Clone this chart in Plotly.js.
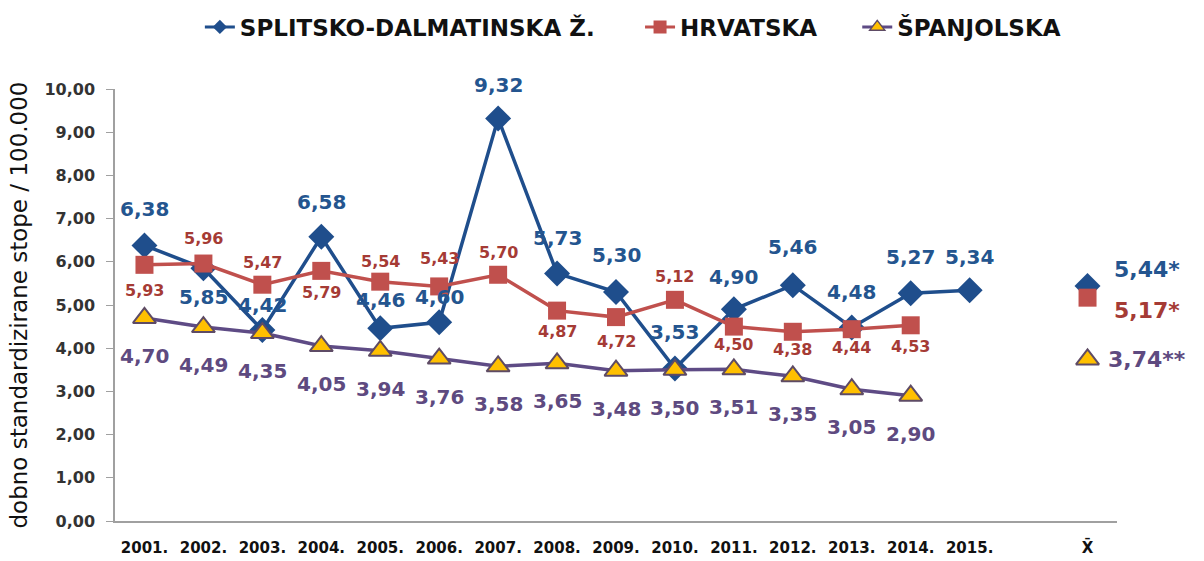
<!DOCTYPE html>
<html><head><meta charset="utf-8">
<script src="https://cdn.plot.ly/plotly-3.0.1.min.js"></script>
<style>body{margin:0;background:#fff}#c{width:1204px;height:561px}</style>
</head><body><div id="c"></div>
<script>
const years = ['2001.','2002.','2003.','2004.','2005.','2006.','2007.','2008.','2009.','2010.','2011.','2012.','2013.','2014.','2015.'];
const meanLabel = 'X̄';
const splitsko = [6.38,5.85,4.42,6.58,4.46,4.60,9.32,5.73,5.30,3.53,4.90,5.46,4.48,5.27,5.34];
const hrvatska = [5.93,5.96,5.47,5.79,5.54,5.43,5.70,4.87,4.72,5.12,4.50,4.38,4.44,4.53];
const spanjolska = [4.70,4.49,4.35,4.05,3.94,3.76,3.58,3.65,3.48,3.50,3.51,3.35,3.05,2.90];
const meanSplitsko = 5.44, meanHrvatska = 5.17, meanSpanjolska = 3.74;
const names = ['SPLITSKO-DALMATINSKA Ž.','HRVATSKA','ŠPANJOLSKA'];

const fmt = v => v.toFixed(2).replace('.', ',');
const idx = a => a.map((_, i) => i);
const meanX = years.length + 1;

// label placement (style only): vertical pixel shift of each label
const shiftS = [36,-29,25,35,28,25,33,35,37,37,32,38,35,36,33];
const shiftH = [-26,25,22,-22,20,28,22,-21,-24,23,-18,-18,-18,-21];
const shiftP = -38;

const F = 'DejaVu Sans, sans-serif';
const blue = '#1F4E8C', red = '#C0504D', purple = '#5E4B85';
const blueT = '#24558F', redT = '#A53B35', purpleT = '#5E4A80';
const triMarker = {symbol:'triangle-up',size:20,color:'#FFC000',line:{color:'#5E4B65',width:2}};

const traces = [
 {x: idx(splitsko), y: splitsko, mode:'lines+markers', showlegend:false, hoverinfo:'skip',
  line:{color:blue,width:3.5}, marker:{symbol:'diamond',size:20,color:blue}, cliponaxis:false},
 {x: idx(hrvatska), y: hrvatska, mode:'lines+markers', showlegend:false, hoverinfo:'skip',
  line:{color:red,width:3.5}, marker:{symbol:'square',size:18,color:red}, cliponaxis:false},
 {x: idx(spanjolska), y: spanjolska, mode:'lines+markers', showlegend:false, hoverinfo:'skip',
  line:{color:purple,width:3.5}, marker:triMarker, cliponaxis:false},
 {x:[meanX], y:[meanSplitsko], mode:'markers', showlegend:false, marker:{symbol:'diamond',size:20,color:blue}, cliponaxis:false},
 {x:[meanX], y:[meanHrvatska], mode:'markers', showlegend:false, marker:{symbol:'square',size:18,color:red}, cliponaxis:false},
 {x:[meanX], y:[meanSpanjolska], mode:'markers', showlegend:false, marker:triMarker, cliponaxis:false},
 // legend entries
 {x:[null], y:[null], name:names[0], mode:'lines+markers', legend:'legend', line:{color:blue,width:3}, marker:{symbol:'diamond',size:11,color:blue}},
 {x:[null], y:[null], name:names[1], mode:'lines+markers', legend:'legend2', line:{color:red,width:3}, marker:{symbol:'square',size:13,color:red}},
 {x:[null], y:[null], name:names[2], mode:'lines+markers', legend:'legend3', line:{color:purple,width:3}, marker:{symbol:'triangle-up',size:13,color:'#FFC000',line:{color:'#5E4B65',width:1.5}}}
];

const ann = [];
splitsko.forEach((v,i)=>ann.push({x:i,y:v,text:fmt(v),showarrow:false,yshift:shiftS[i],
  font:{family:F,size:20,color:blueT,weight:'bold'}}));
hrvatska.forEach((v,i)=>ann.push({x:i,y:v,text:fmt(v),showarrow:false,yshift:shiftH[i],
  font:{family:F,size:16,color:redT,weight:'bold'}}));
spanjolska.forEach((v,i)=>ann.push({x:i,y:v,text:fmt(v),showarrow:false,yshift:shiftP,
  font:{family:F,size:20,color:purpleT,weight:'bold'}}));
ann.push({x:meanX,y:meanSplitsko,text:fmt(meanSplitsko)+'*',showarrow:false,xanchor:'left',xshift:24,yshift:16,
  font:{family:F,size:22,color:blueT,weight:'bold'}});
ann.push({x:meanX,y:meanHrvatska,text:fmt(meanHrvatska)+'*',showarrow:false,xanchor:'left',xshift:24,yshift:-13,
  font:{family:F,size:22,color:redT,weight:'bold'}});
ann.push({x:meanX,y:meanSpanjolska,text:fmt(meanSpanjolska)+'**',showarrow:false,xanchor:'left',xshift:18,yshift:0,
  font:{family:F,size:22,color:purpleT,weight:'bold'}});

const tickvals = idx(years).concat([meanX]);
const ticktext = years.concat([meanLabel]);
const legFont = {family:F,size:23,color:'#111',weight:'bold'};
const legBase = {orientation:'h', xref:'container', yref:'container', xanchor:'left', y:0.952, yanchor:'middle', font:legFont, bgcolor:'rgba(0,0,0,0)'};

const layout = {
 width:1204, height:561,
 margin:{l:115, r:87, t:89, b:40},
 paper_bgcolor:'#fff', plot_bgcolor:'#fff',
 separators:',.',
 showlegend:true,
 legend: Object.assign({}, legBase, {x:0.166}),
 legend2: Object.assign({}, legBase, {x:0.5316}),
 legend3: Object.assign({}, legBase, {x:0.712}),
 annotations: ann,
 xaxis:{range:[-0.5, meanX+0.5], tickvals:tickvals, ticktext:ticktext, showgrid:false, zeroline:false,
   showline:true, linecolor:'#A0A0A0', linewidth:2, ticks:'', ticklabelstandoff:12,
   tickfont:{family:F,size:15,color:'#111',weight:'bold'}},
 yaxis:{range:[0,10], dtick:1, tickformat:'.2f', showgrid:false, zeroline:false,
   showline:true, linecolor:'#A0A0A0', linewidth:1.5, ticks:'outside', ticklen:7, tickcolor:'#A0A0A0',
   ticklabelstandoff:8,
   tickfont:{family:F,size:16,color:'#333',weight:'bold'},
   title:{text:'dobno standardizirane stope / 100.000', font:{family:F,size:23,color:'#111'}, standoff:10}}
};
Plotly.newPlot('c', traces, layout, {displayModeBar:false});
</script></body></html>
